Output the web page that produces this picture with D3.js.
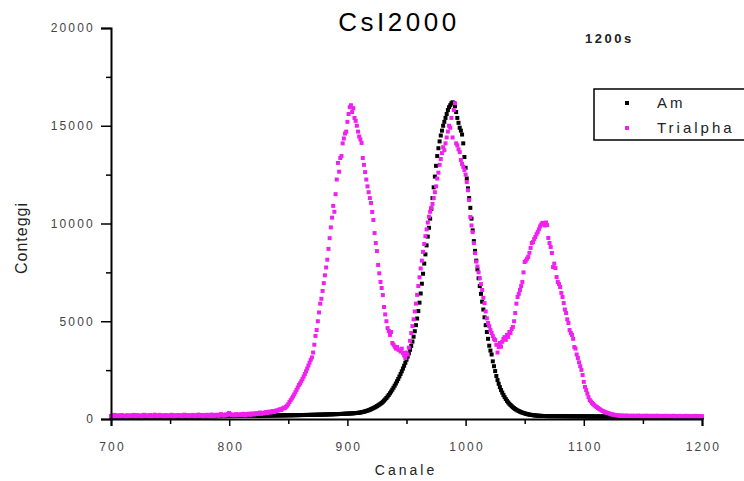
<!DOCTYPE html>
<html>
<head>
<meta charset="utf-8">
<script src="https://cdnjs.cloudflare.com/ajax/libs/d3/7.8.5/d3.min.js"></script>
<style>
body { margin: 0; background: #fff; }
text { font-family: "Liberation Sans", Arial, sans-serif; }
</style>
</head>
<body>
<svg id="chart"></svg>
<script>
// spectra, one value per channel starting at channel 700
const firstChannel = 700;

const amCounts = [
118,126,112,130,121,115,128,119,124,110, 127,121,116,133,119,125,112,129,122,117,
131,120,126,114,128,123,118,135,121,127, 116,129,124,119,133,122,127,115,130,125,
120,134,126,118,131,124,129,121,136,127, 123,131,119,137,128,125,133,122,130,126,
135,128,124,138,131,127,140,129,134,132, 137,130,142,133,139,135,128,144,136,141,
138,145,133,141,147,137,143,139,149,140, 146,142,151,144,148,153,145,150,147,155,
149,156,152,148,158,154,160,151,157,162, 155,161,158,164,157,163,160,166,159,165,
168,162,167,171,164,170,166,173,169,175, 171,177,172,176,180,174,179,182,176,183,
180,185,179,187,183,188,184,190,186,192, 189,194,188,196,192,198,193,200,195,202,
198,204,200,207,203,209,205,212,208,214, 211,217,213,220,216,223,219,226,222,229,
226,232,229,236,233,240,237,244,241,248, 246,252,250,257,255,262,260,268,266,274,
273,280,279,287,287,295,296,305,307,317, 320,332,344,358,373,390,408,428,450,474,
500,528,558,590,624,660,698,738,780,825, 880,940,1005,1075,1150,1230,1315,1405,1500,1600,
1705,1815,1930,2050,2175,2305,2440,2580,2725,2875, 3030,3190,3360,3540,3740,3960,4210,4490,4800,5140,
5520,5950,6420,6920,7430,7950,8420,8880,9330,9780, 10250,10750,11300,11850,12400,12950,13450,13850,14200,14500,
14750,15000,15200,15400,15600,15800,15950,16050,16150,16200, 16150,16000,15700,15400,15150,14900,14750,14550,14100,13400,
12850,12300,11800,11300,10800,10250,9650,9100,8600,8100, 7650,7200,6800,6400,6000,5600,5200,4800,4450,4100,
3750,3500,3300,2950,2700,2450,2200,1990,1800,1630, 1480,1350,1230,1120,1020,930,850,780,715,655,
600,555,510,470,435,405,375,350,325,305, 285,268,252,238,226,215,205,196,188,181,
175,170,166,162,159,156,154,152,150,149, 148,146,150,145,147,143,149,144,146,142,
145,141,147,143,140,144,139,142,138,141, 137,140,136,139,135,138,134,137,133,136,
132,135,131,134,130,133,129,132,128,131, 127,130,126,129,125,128,124,127,123,126,
122,125,121,124,120,123,119,122,118,121, 117,120,116,119,115,118,114,117,113,116,
112,115,111,114,110,113,109,112,108,111, 107,110,106,109,105,108,104,107,103,106,
102,105,101,104,100,103,99,102,98,101, 97,100,96,99,95,98,94,97,93,96,
92,95,91,94,90,93,89,92,88,91, 87,90,86,89,85,88,84,87,83,86,
82
];

const trialphaCounts = [
150,180,120,210,160,140,190,130,170,200, 140,175,155,120,195,165,135,185,150,210,
170,130,200,160,145,185,125,175,215,155, 190,140,165,205,130,180,150,220,160,135,
175,210,145,190,160,125,200,170,140,185, 155,215,165,135,195,175,145,205,160,190,
130,180,220,150,170,200,140,185,160,210, 175,145,195,165,225,150,185,205,140,190,
170,215,160,195,145,230,180,160,205,175, 220,165,195,250,180,210,170,235,200,260,
310,240,200,225,185,215,250,195,230,210, 245,200,265,220,190,255,230,275,210,250,
285,235,270,300,250,290,330,265,310,280, 320,355,300,340,380,330,370,410,360,400,
440,420,470,500,460,530,580,550,620,680, 760,870,960,1050,1150,1260,1370,1490,1610,1740,
1820,1930,2050,2170,2300,2440,2580,2730,2880,3030, 3150,3400,3800,4250,4550,5000,5450,5900,6150,6550,
6950,7350,7750,8150,8700,9250,9800,10300,10900,10600, 11500,12250,13100,12650,13350,13450,14100,14350,14600,14700,
15200,15600,15950,16050,15700,15900,15400,15250,15000,14700, 14450,14300,14120,13350,13000,12630,12250,11900,11600,11300,
11050,10590,10180,9510,9000,8590,7880,7450,7010,6700, 6340,5730,5350,5000,4650,4500,4300,4450,3890,3800,
3700,3600,3680,3550,3530,3450,3600,3380,3250,3120, 3400,3300,3650,4000,4400,4750,5100,5500,5900,6350,
6800,7250,7700,8100,8550,8950,9350,9700,10050,10350, 10600,10800,11000,11300,11600,11900,12300,12600,13000,13300,
13600,13900,13750,14100,14400,14700,15000,14900,15400,14400, 15800,16150,14100,14000,13800,13650,13250,13050,12900,12740,
12500,12120,11700,11200,10330,9900,9560,9000,8490,8050, 7800,7500,7200,6900,6600,6200,5930,5500,5150,4910,
4750,4550,4400,4250,4100,4040,3800,3400,3680,3890, 3700,3950,4100,4190,4050,4300,4200,4450,4400,4600,
4710,5000,5420,5900,6240,6400,6600,6800,7010,7500, 8030,8100,8200,8290,8500,8750,9000,9050,9200,9310,
9450,9560,9700,9850,9950,10030,10000,9900,10050,9920, 9260,9000,8800,8490,7770,7950,7720,7260,7010,6900,
6750,6450,6240,5930,5600,5420,5100,4910,4550,4400, 4300,4100,3680,3600,3300,3120,2900,2700,2510,2250,
1900,1640,1480,1300,1120,970,900,820,760,700, 650,610,560,520,480,440,410,380,350,330,
310,290,270,250,235,220,210,200,190,185, 175,160,180,150,170,165,145,175,155,160,
150,170,140,165,155,145,175,150,160,140, 165,145,155,170,140,160,150,135,165,145,
155,140,170,150,135,160,145,155,140,165, 150,135,160,145,155,140,165,130,150,145,
140,160,135,150,145,155,130,160,140,150, 135,155,145,140,160,130,150,145,135,150,
140
];

const seriesNames = ["Am", "Trialpha"];
const seriesColors = ["#000000", "#f020f0"];
const xTicks = [700, 800, 900, 1000, 1100, 1200];
const xMinorTicks = [750, 850, 950, 1050, 1150];
const yTicks = [0, 5000, 10000, 15000, 20000];
const yMinorTicks = [2500, 7500, 12500, 17500];

let width = 744;
let height = 481;
let plotLeft = 111, plotRight = 702, plotTop = 28, plotBottom = 419;

let chart = d3.select("#chart").attr("width", width).attr("height", height);

let xscale = d3.scaleLinear()
    .domain([700, 1200])
    .range([plotLeft, plotRight])

let yscale = d3.scaleLinear()
    .domain([0, 20000])
    .range([plotBottom, plotTop])

// points: Am first, Trialpha on top
let series = [amCounts, trialphaCounts];
series.forEach(function (counts, i) {
    chart.append("g")
        .selectAll("rect")
        .data(counts)
        .enter().append("rect")
        .attr("x", (d, k) => xscale(firstChannel + k) - 2)
        .attr("y", d => yscale(d) - 2)
        .attr("width", 4)
        .attr("height", 4)
        .style("fill", seriesColors[i])
});

// axes
let xAxis = chart.append("g")
    .attr("transform", "translate(0," + plotBottom + ")")
    .call(d3.axisBottom(xscale).tickValues(xTicks).tickSize(7).tickPadding(16).tickFormat(d3.format("d")));
chart.append("g")
    .attr("transform", "translate(0," + plotBottom + ")")
    .call(d3.axisBottom(xscale).tickValues(xMinorTicks).tickSize(5).tickFormat(""))
    .select(".domain").remove();

let yAxis = chart.append("g")
    .attr("transform", "translate(" + plotLeft + ",0)")
    .call(d3.axisLeft(yscale).tickValues(yTicks).tickSize(10).tickPadding(8).tickFormat(d3.format("d")));
chart.append("g")
    .attr("transform", "translate(" + plotLeft + ",0)")
    .call(d3.axisLeft(yscale).tickValues(yMinorTicks).tickSize(5).tickFormat(""))
    .select(".domain").remove();

chart.selectAll(".domain").style("stroke", "#000").style("stroke-width", 2);
chart.selectAll(".tick line").style("stroke", "#000").style("stroke-width", 1.5);
chart.selectAll(".tick text")
    .style("font-size", "12px")
    .style("letter-spacing", "2.2px")
    .style("fill", "#444");
yAxis.selectAll(".tick text").attr("dx", "2px");
xAxis.selectAll(".tick text").attr("dx", "1px");

// titles
chart.append("text")
    .attr("x", 399).attr("y", 31)
    .style("text-anchor", "middle")
    .style("font-size", "26px")
    .style("letter-spacing", "3.5px")
    .text("CsI2000");

chart.append("text")
    .attr("x", 585).attr("y", 43)
    .style("font-size", "13px")
    .style("font-weight", "bold")
    .style("letter-spacing", "2.5px")
    .style("fill", "#222")
    .text("1200s");

chart.append("text")
    .attr("transform", "translate(27," + 238 + ") rotate(-90)")
    .style("text-anchor", "middle")
    .style("font-size", "16px")
    .style("letter-spacing", "1px")
    .style("fill", "#222")
    .text("Conteggi");

chart.append("text")
    .attr("x", 406).attr("y", 475)
    .style("text-anchor", "middle")
    .style("font-size", "14px")
    .style("letter-spacing", "3px")
    .style("fill", "#222")
    .text("Canale");

// legend
let legend = chart.append("g");
legend.append("rect")
    .attr("x", 594).attr("y", 89)
    .attr("width", 160).attr("height", 51)
    .style("fill", "#fff")
    .style("stroke", "#000")
    .style("stroke-width", 1.5);

seriesNames.forEach(function (name, i) {
    let y = 103 + i * 25;
    legend.append("rect")
        .attr("x", 625).attr("y", y - 2)
        .attr("width", 4).attr("height", 4)
        .style("fill", seriesColors[i]);
    legend.append("text")
        .attr("x", 657).attr("y", y + 5)
        .style("font-size", "15px")
        .style("letter-spacing", "3px")
        .style("fill", "#222")
        .text(name);
});
</script>
</body>
</html>
